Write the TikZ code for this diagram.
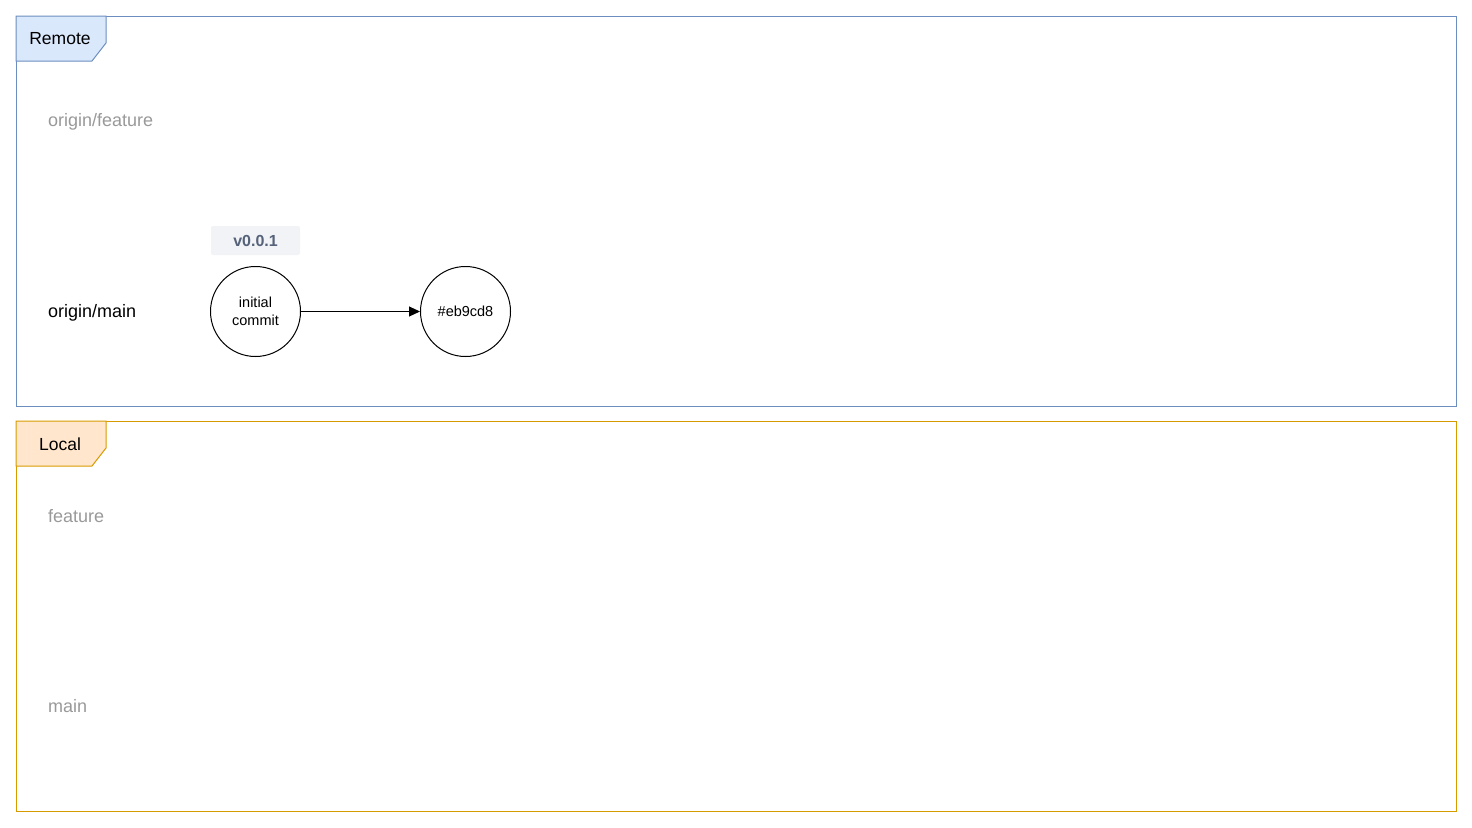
\documentclass[tikz,border=0pt]{standalone}
\usepackage{fontspec}
\setmainfont{Liberation Sans}
\usetikzlibrary{arrows.meta}
\definecolor{remoteline}{HTML}{6C8EBF}
\definecolor{remotefill}{HTML}{DAE8FC}
\definecolor{localline}{HTML}{D79B00}
\definecolor{localfill}{HTML}{FFE6CC}
\definecolor{graytext}{HTML}{999999}
\definecolor{tagfill}{HTML}{F1F3F6}
\definecolor{tagtext}{HTML}{56627A}
\tikzset{
  frame/.style={line width=1pt},
  tabtext/.style={font=\fontsize{17.5}{20}\selectfont, anchor=center, inner sep=0pt},
  branch/.style={font=\fontsize{18}{20}\selectfont, anchor=west, inner sep=0pt},
  commit/.style={circle, draw=black, line width=1pt, minimum size=90pt, inner sep=0pt, align=center, font=\fontsize{14.5}{18}\selectfont},
  tag/.style={fill=tagfill, rounded corners=2pt, minimum width=89pt, minimum height=29pt, inner sep=0pt, font=\bfseries\fontsize{16}{18}\selectfont, text=tagtext},
  link/.style={line width=1pt, -{Triangle[length=11pt,width=10pt]}}
}
\begin{document}
\begin{tikzpicture}[x=1pt,y=-1pt]
\useasboundingbox (0,0) rectangle (1472,827);
% Remote frame
\draw[frame, draw=remoteline] (16,16) rectangle (1456,406);
\draw[frame, draw=remoteline, fill=remotefill] (16,16) -- (106,16) -- (106,43) -- (92,61) -- (16,61) -- cycle;
\node[tabtext] (remote) at (60,39) {Remote};
% Local frame
\draw[frame, draw=localline] (16,421) rectangle (1456,811);
\draw[frame, draw=localline, fill=localfill] (16,421) -- (106,421) -- (106,448) -- (92,466) -- (16,466) -- cycle;
\node[tabtext] (local) at (60,444) {Local};
% branch labels
\node[branch, text=graytext] (ofeature) at (48,121.5) {origin/feature};
\node[branch, text=black] (omain) at (48,312.5) {origin/main};
\node[branch, text=graytext] (lfeature) at (48,516.5) {feature};
\node[branch, text=graytext] (lmain) at (48,706.5) {main};
% commits
\node[tag] (tag1) at (255.5,240.5) {v0.0.1};
\node[commit] (c1) at (255.5,311.5) {initial\\commit};
\node[commit] (c2) at (465.5,311.5) {\#eb9cd8};
\draw[link] (c1) -- (c2);
\end{tikzpicture}
\end{document}
